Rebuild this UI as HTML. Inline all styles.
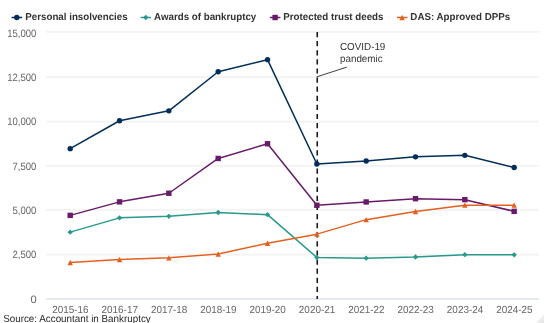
<!DOCTYPE html>
<html><head><meta charset="utf-8"><style>
html,body{margin:0;padding:0;background:#fff;}
body{width:544px;height:323px;overflow:hidden;}
svg{display:block;}
text{font-family:"Liberation Sans",sans-serif;text-rendering:geometricPrecision;filter:url(#nf);}
.ax{font-size:10.3px;fill:#666666;}
.lg{font-size:10.05px;font-weight:bold;fill:#333333;}
.an{font-size:10.2px;fill:#333333;}
.src{font-size:10.2px;fill:#262626;}
</style></head><body>
<svg width="544" height="323" viewBox="0 0 544 323">
<defs><linearGradient id="cg" x1="0" y1="0" x2="1" y2="1"><stop offset="0.45" stop-color="#f3f3f3"/><stop offset="1" stop-color="#e2e2e2"/></linearGradient><filter id="nf" x="-10%" y="-50%" width="120%" height="200%"><feOffset dx="0" dy="0"/></filter></defs>
<line x1="46" x2="539" y1="31.8" y2="31.8" stroke="#f3f3f3" stroke-width="1.8"/>
<line x1="46" x2="539" y1="77.0" y2="77.0" stroke="#f3f3f3" stroke-width="1.8"/>
<line x1="46" x2="539" y1="121.6" y2="121.6" stroke="#f3f3f3" stroke-width="1.8"/>
<line x1="46" x2="539" y1="165.9" y2="165.9" stroke="#f3f3f3" stroke-width="1.8"/>
<line x1="46" x2="539" y1="209.9" y2="209.9" stroke="#f3f3f3" stroke-width="1.8"/>
<line x1="46" x2="539" y1="254.7" y2="254.7" stroke="#f3f3f3" stroke-width="1.8"/>
<line x1="46" x2="539" y1="299.0" y2="299.0" stroke="#e5e9f2" stroke-width="1.8"/>
<text x="36.3" y="36.67" text-anchor="end" class="ax" style="font-size:10.6px" textLength="29.17" lengthAdjust="spacingAndGlyphs">15,000</text>
<text x="36.3" y="81.34" text-anchor="end" class="ax" style="font-size:10.6px" textLength="29.17" lengthAdjust="spacingAndGlyphs">12,500</text>
<text x="36.3" y="124.94" text-anchor="end" class="ax" style="font-size:10.6px" textLength="29.17" lengthAdjust="spacingAndGlyphs">10,000</text>
<text x="36.3" y="169.94" text-anchor="end" class="ax" style="font-size:10.6px" textLength="23.86" lengthAdjust="spacingAndGlyphs">7,500</text>
<text x="36.3" y="214.25" text-anchor="end" class="ax" style="font-size:10.6px" textLength="23.86" lengthAdjust="spacingAndGlyphs">5,000</text>
<text x="36.3" y="258.33" text-anchor="end" class="ax" style="font-size:10.6px" textLength="23.86" lengthAdjust="spacingAndGlyphs">2,500</text>
<text x="36.6" y="303.10" text-anchor="end" class="ax" style="font-size:10.6px" textLength="6.20" lengthAdjust="spacingAndGlyphs">0</text>
<text x="70.40" y="312.8" text-anchor="middle" class="ax" textLength="36.36" lengthAdjust="spacingAndGlyphs">2015-16</text>
<text x="119.73" y="312.8" text-anchor="middle" class="ax" textLength="36.36" lengthAdjust="spacingAndGlyphs">2016-17</text>
<text x="169.06" y="312.8" text-anchor="middle" class="ax" textLength="36.36" lengthAdjust="spacingAndGlyphs">2017-18</text>
<text x="218.39" y="312.8" text-anchor="middle" class="ax" textLength="36.36" lengthAdjust="spacingAndGlyphs">2018-19</text>
<text x="267.72" y="312.8" text-anchor="middle" class="ax" textLength="36.36" lengthAdjust="spacingAndGlyphs">2019-20</text>
<text x="317.05" y="312.8" text-anchor="middle" class="ax" textLength="36.36" lengthAdjust="spacingAndGlyphs">2020-21</text>
<text x="366.38" y="312.8" text-anchor="middle" class="ax" textLength="36.36" lengthAdjust="spacingAndGlyphs">2021-22</text>
<text x="415.71" y="312.8" text-anchor="middle" class="ax" textLength="36.36" lengthAdjust="spacingAndGlyphs">2022-23</text>
<text x="465.04" y="312.8" text-anchor="middle" class="ax" textLength="36.36" lengthAdjust="spacingAndGlyphs">2023-24</text>
<text x="514.37" y="312.8" text-anchor="middle" class="ax" textLength="36.36" lengthAdjust="spacingAndGlyphs">2024-25</text>
<line x1="317.25" x2="317.25" y1="32" y2="299" stroke="#1a1a1a" stroke-width="1.6" stroke-dasharray="5.2 3.9"/>
<line x1="316.6" y1="76.9" x2="346.9" y2="67.1" stroke="#2a2a2a" stroke-width="0.9"/>
<text x="340" y="49.9" class="an" textLength="45.35" lengthAdjust="spacingAndGlyphs">COVID-19</text>
<text x="340" y="61.6" class="an" textLength="42.64" lengthAdjust="spacingAndGlyphs">pandemic</text>
<g transform="translate(0.1 0.35)">
<polyline points="70.10,148.30 119.43,120.40 168.76,110.50 218.09,71.40 267.42,59.30 316.75,163.60 366.08,160.60 415.41,156.50 464.74,155.00 514.07,167.20" fill="none" stroke="#022d58" stroke-width="1.5" stroke-linejoin="round" stroke-linecap="round"/>
<circle cx="70.10" cy="148.30" r="2.7" fill="#022d58"/>
<circle cx="119.43" cy="120.40" r="2.7" fill="#022d58"/>
<circle cx="168.76" cy="110.50" r="2.7" fill="#022d58"/>
<circle cx="218.09" cy="71.40" r="2.7" fill="#022d58"/>
<circle cx="267.42" cy="59.30" r="2.7" fill="#022d58"/>
<circle cx="316.75" cy="163.60" r="2.7" fill="#022d58"/>
<circle cx="366.08" cy="160.60" r="2.7" fill="#022d58"/>
<circle cx="415.41" cy="156.50" r="2.7" fill="#022d58"/>
<circle cx="464.74" cy="155.00" r="2.7" fill="#022d58"/>
<circle cx="514.07" cy="167.20" r="2.7" fill="#022d58"/>
<polyline points="70.10,231.80 119.43,217.50 168.76,216.00 218.09,212.10 267.42,214.30 316.75,257.10 366.08,257.80 415.41,256.70 464.74,254.30 514.07,254.50" fill="none" stroke="#28998c" stroke-width="1.5" stroke-linejoin="round" stroke-linecap="round"/>
<path d="M70.10 229.10L72.80 231.80L70.10 234.50L67.40 231.80Z" fill="#28998c"/>
<path d="M119.43 214.80L122.13 217.50L119.43 220.20L116.73 217.50Z" fill="#28998c"/>
<path d="M168.76 213.30L171.46 216.00L168.76 218.70L166.06 216.00Z" fill="#28998c"/>
<path d="M218.09 209.40L220.79 212.10L218.09 214.80L215.39 212.10Z" fill="#28998c"/>
<path d="M267.42 211.60L270.12 214.30L267.42 217.00L264.72 214.30Z" fill="#28998c"/>
<path d="M316.75 254.40L319.45 257.10L316.75 259.80L314.05 257.10Z" fill="#28998c"/>
<path d="M366.08 255.10L368.78 257.80L366.08 260.50L363.38 257.80Z" fill="#28998c"/>
<path d="M415.41 254.00L418.11 256.70L415.41 259.40L412.71 256.70Z" fill="#28998c"/>
<path d="M464.74 251.60L467.44 254.30L464.74 257.00L462.04 254.30Z" fill="#28998c"/>
<path d="M514.07 251.80L516.77 254.50L514.07 257.20L511.37 254.50Z" fill="#28998c"/>
<polyline points="70.10,215.00 119.43,201.50 168.76,192.90 218.09,158.10 267.42,143.40 316.75,204.90 366.08,201.60 415.41,198.30 464.74,199.30 514.07,211.00" fill="none" stroke="#681b68" stroke-width="1.5" stroke-linejoin="round" stroke-linecap="round"/>
<rect x="67.40" y="212.30" width="5.4" height="5.4" fill="#681b68"/>
<rect x="116.73" y="198.80" width="5.4" height="5.4" fill="#681b68"/>
<rect x="166.06" y="190.20" width="5.4" height="5.4" fill="#681b68"/>
<rect x="215.39" y="155.40" width="5.4" height="5.4" fill="#681b68"/>
<rect x="264.72" y="140.70" width="5.4" height="5.4" fill="#681b68"/>
<rect x="314.05" y="202.20" width="5.4" height="5.4" fill="#681b68"/>
<rect x="363.38" y="198.90" width="5.4" height="5.4" fill="#681b68"/>
<rect x="412.71" y="195.60" width="5.4" height="5.4" fill="#681b68"/>
<rect x="462.04" y="196.60" width="5.4" height="5.4" fill="#681b68"/>
<rect x="511.37" y="208.30" width="5.4" height="5.4" fill="#681b68"/>
<polyline points="70.10,262.10 119.43,259.20 168.76,257.50 218.09,253.70 267.42,242.90 316.75,233.80 366.08,219.30 415.41,211.10 464.74,204.80 514.07,204.80" fill="none" stroke="#e4601f" stroke-width="1.5" stroke-linejoin="round" stroke-linecap="round"/>
<path d="M70.10 259.40L72.80 264.80L67.40 264.80Z" fill="#e4601f"/>
<path d="M119.43 256.50L122.13 261.90L116.73 261.90Z" fill="#e4601f"/>
<path d="M168.76 254.80L171.46 260.20L166.06 260.20Z" fill="#e4601f"/>
<path d="M218.09 251.00L220.79 256.40L215.39 256.40Z" fill="#e4601f"/>
<path d="M267.42 240.20L270.12 245.60L264.72 245.60Z" fill="#e4601f"/>
<path d="M316.75 231.10L319.45 236.50L314.05 236.50Z" fill="#e4601f"/>
<path d="M366.08 216.60L368.78 222.00L363.38 222.00Z" fill="#e4601f"/>
<path d="M415.41 208.40L418.11 213.80L412.71 213.80Z" fill="#e4601f"/>
<path d="M464.74 202.10L467.44 207.50L462.04 207.50Z" fill="#e4601f"/>
<path d="M514.07 202.10L516.77 207.50L511.37 207.50Z" fill="#e4601f"/>
</g>
<line x1="11.6" x2="22.1" y1="17.5" y2="17.5" stroke="#022d58" stroke-width="1.5"/>
<circle cx="16.80" cy="17.50" r="2.7" fill="#022d58"/>
<text x="25.3" y="20.2" class="lg" textLength="102.38" lengthAdjust="spacingAndGlyphs">Personal insolvencies</text>
<line x1="140.6" x2="151.1" y1="17.5" y2="17.5" stroke="#28998c" stroke-width="1.5"/>
<path d="M145.80 14.80L148.50 17.50L145.80 20.20L143.10 17.50Z" fill="#28998c"/>
<text x="154.1" y="20.2" class="lg" textLength="102.18" lengthAdjust="spacingAndGlyphs">Awards of bankruptcy</text>
<line x1="269.9" x2="280.4" y1="17.5" y2="17.5" stroke="#681b68" stroke-width="1.5"/>
<rect x="272.40" y="14.80" width="5.4" height="5.4" fill="#681b68"/>
<text x="283.3" y="20.2" class="lg" textLength="100.20" lengthAdjust="spacingAndGlyphs">Protected trust deeds</text>
<line x1="396.9" x2="407.4" y1="17.5" y2="17.5" stroke="#e4601f" stroke-width="1.5"/>
<path d="M402.10 14.80L404.80 20.20L399.40 20.20Z" fill="#e4601f"/>
<text x="410.35" y="20.2" class="lg" textLength="99.82" lengthAdjust="spacingAndGlyphs">DAS: Approved DPPs</text>
<text x="3.2" y="321.7" class="src" textLength="147.55" lengthAdjust="spacingAndGlyphs">Source: Accountant in Bankruptcy</text>
<path d="M535.5 323L544 314.5L544 323Z" fill="url(#cg)"/>
</svg>
</body></html>
